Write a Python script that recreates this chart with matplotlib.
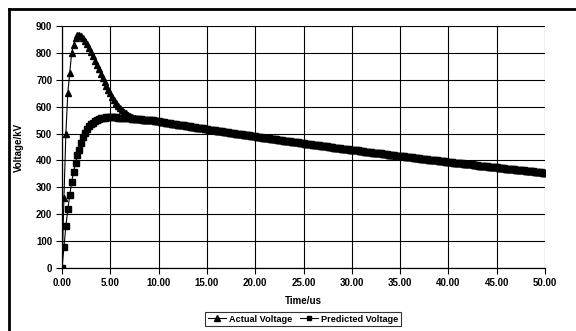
import numpy as np
import matplotlib
matplotlib.use("agg")
import matplotlib.pyplot as plt
from matplotlib.lines import Line2D

# sample times (us), 0.2 us step
time_us = np.linspace(0, 50, 251)

# first 9 us (t = 0.0 ... 9.0)
actual_early = [0, 260, 500, 650, 725, 800, 830, 855, 865, 866,
                862, 855, 845, 833, 818, 803, 787, 771, 755, 739,
                722, 707, 692, 677, 663, 649, 636, 625, 614, 604,
                595, 588, 581, 575, 570, 566, 562, 559, 557, 555,
                554, 553, 552, 552, 551, 551]
predicted_early = [0, 77, 155, 218, 271, 321, 357, 390, 420, 440,
                   465, 486, 503, 516, 527, 535, 541, 546, 550, 553,
                   556, 558, 559, 560, 560, 560, 560, 560, 560, 559,
                   559, 558, 558, 557, 557, 556, 555, 555, 554, 554,
                   553, 553, 552, 552, 551, 551]

# common tail (t = 9.2 ... 50.0), both curves overlap here
tail = [550, 549, 547, 546,
        545, 544, 543, 542, 540, 539, 538, 537, 536, 535,
        533, 532, 531, 530, 529, 528, 527, 525, 524, 523,
        522, 521, 520, 519, 518, 517, 515, 514, 513, 512,
        511, 510, 509, 508, 507, 506, 504, 503, 502, 501,
        500, 499, 498, 497, 496, 495, 494, 493, 492, 491,
        490, 488, 487, 486, 485, 484, 483, 482, 481, 480,
        479, 478, 477, 476, 475, 474, 473, 472, 471, 470,
        469, 468, 467, 466, 465, 464, 463, 462, 461, 460,
        459, 458, 457, 456, 455, 454, 453, 452, 451, 450,
        449, 448, 447, 446, 445, 444, 443, 442, 441, 440,
        440, 439, 438, 437, 436, 435, 434, 433, 432, 431,
        430, 429, 428, 427, 427, 426, 425, 424, 423, 422,
        421, 420, 419, 418, 417, 417, 416, 415, 414, 413,
        412, 411, 410, 409, 408, 408, 407, 406, 405, 404,
        403, 403, 402, 401, 400, 399, 398, 397, 397, 396,
        395, 394, 393, 392, 391, 391, 390, 389, 388, 387,
        386, 386, 385, 384, 383, 382, 381, 381, 380, 379,
        378, 377, 377, 376, 375, 374, 373, 373, 372, 371,
        370, 369, 369, 368, 367, 366, 365, 365, 364, 363,
        362, 362, 361, 360, 359, 358, 358, 357, 356, 355,
        355]

actual = np.array(actual_early + tail)
predicted = np.array(predicted_early + tail)

x_ticks = np.arange(0, 51, 5)
y_ticks = np.arange(0, 901, 100)

plt.rcParams['font.family'] = ['Liberation Sans', 'DejaVu Sans']
plt.rcParams['font.weight'] = 'bold'

fig = plt.figure(figsize=(5.76, 3.31), dpi=100)
ax = fig.add_axes([62/576, 1-268/331, (545-62)/576, (268-26)/331])

ax.plot(time_us, actual, color='black', lw=0.8, marker='^', ms=4.6,
        mec='black', mfc='black', label='Actual Voltage', zorder=3)
ax.plot(time_us, predicted, color='black', lw=0.8, marker='s', ms=4.2,
        mec='black', mfc='black', label='Predicted Voltage', zorder=3)

ax.set_xlim(0, 50)
ax.set_ylim(0, 900)
ax.set_xticks(x_ticks)
ax.set_yticks(y_ticks)
ax.set_xticklabels(['%.2f' % v for v in x_ticks], fontsize=7, fontweight='bold')
ax.set_yticklabels([str(v) for v in y_ticks], fontsize=7, fontweight='bold')
ax.tick_params(direction='out', length=4, width=0.8, pad=3)
ax.grid(True, color='black', lw=0.8)
ax.set_axisbelow(True)
for s in ['top', 'right']:
    ax.spines[s].set_visible(False)
for s in ['left', 'bottom']:
    ax.spines[s].set_linewidth(0.9)

ax.set_xlabel('Time/us', fontsize=7, fontweight='bold', labelpad=6)
ax.set_ylabel('Voltage/kV', fontsize=7, fontweight='bold', labelpad=9)

leg = fig.legend(loc='center', bbox_to_anchor=(303/576, 1-319/331), ncol=2,
                 fontsize=6.6, frameon=True, fancybox=False, edgecolor='black',
                 handlelength=2.0, handletextpad=0.3, columnspacing=0.8,
                 borderpad=0.3, markerscale=0.85)
leg.get_frame().set_linewidth(0.8)

# chart area border (left and top visible)
fig.add_artist(Line2D([9/576, 9/576], [0, 1-9/331], transform=fig.transFigure,
                      color='black', lw=2))
fig.add_artist(Line2D([9/576, 1], [1-9/331, 1-9/331], transform=fig.transFigure,
                      color='black', lw=2))

fig.savefig('out.png', dpi=100)
